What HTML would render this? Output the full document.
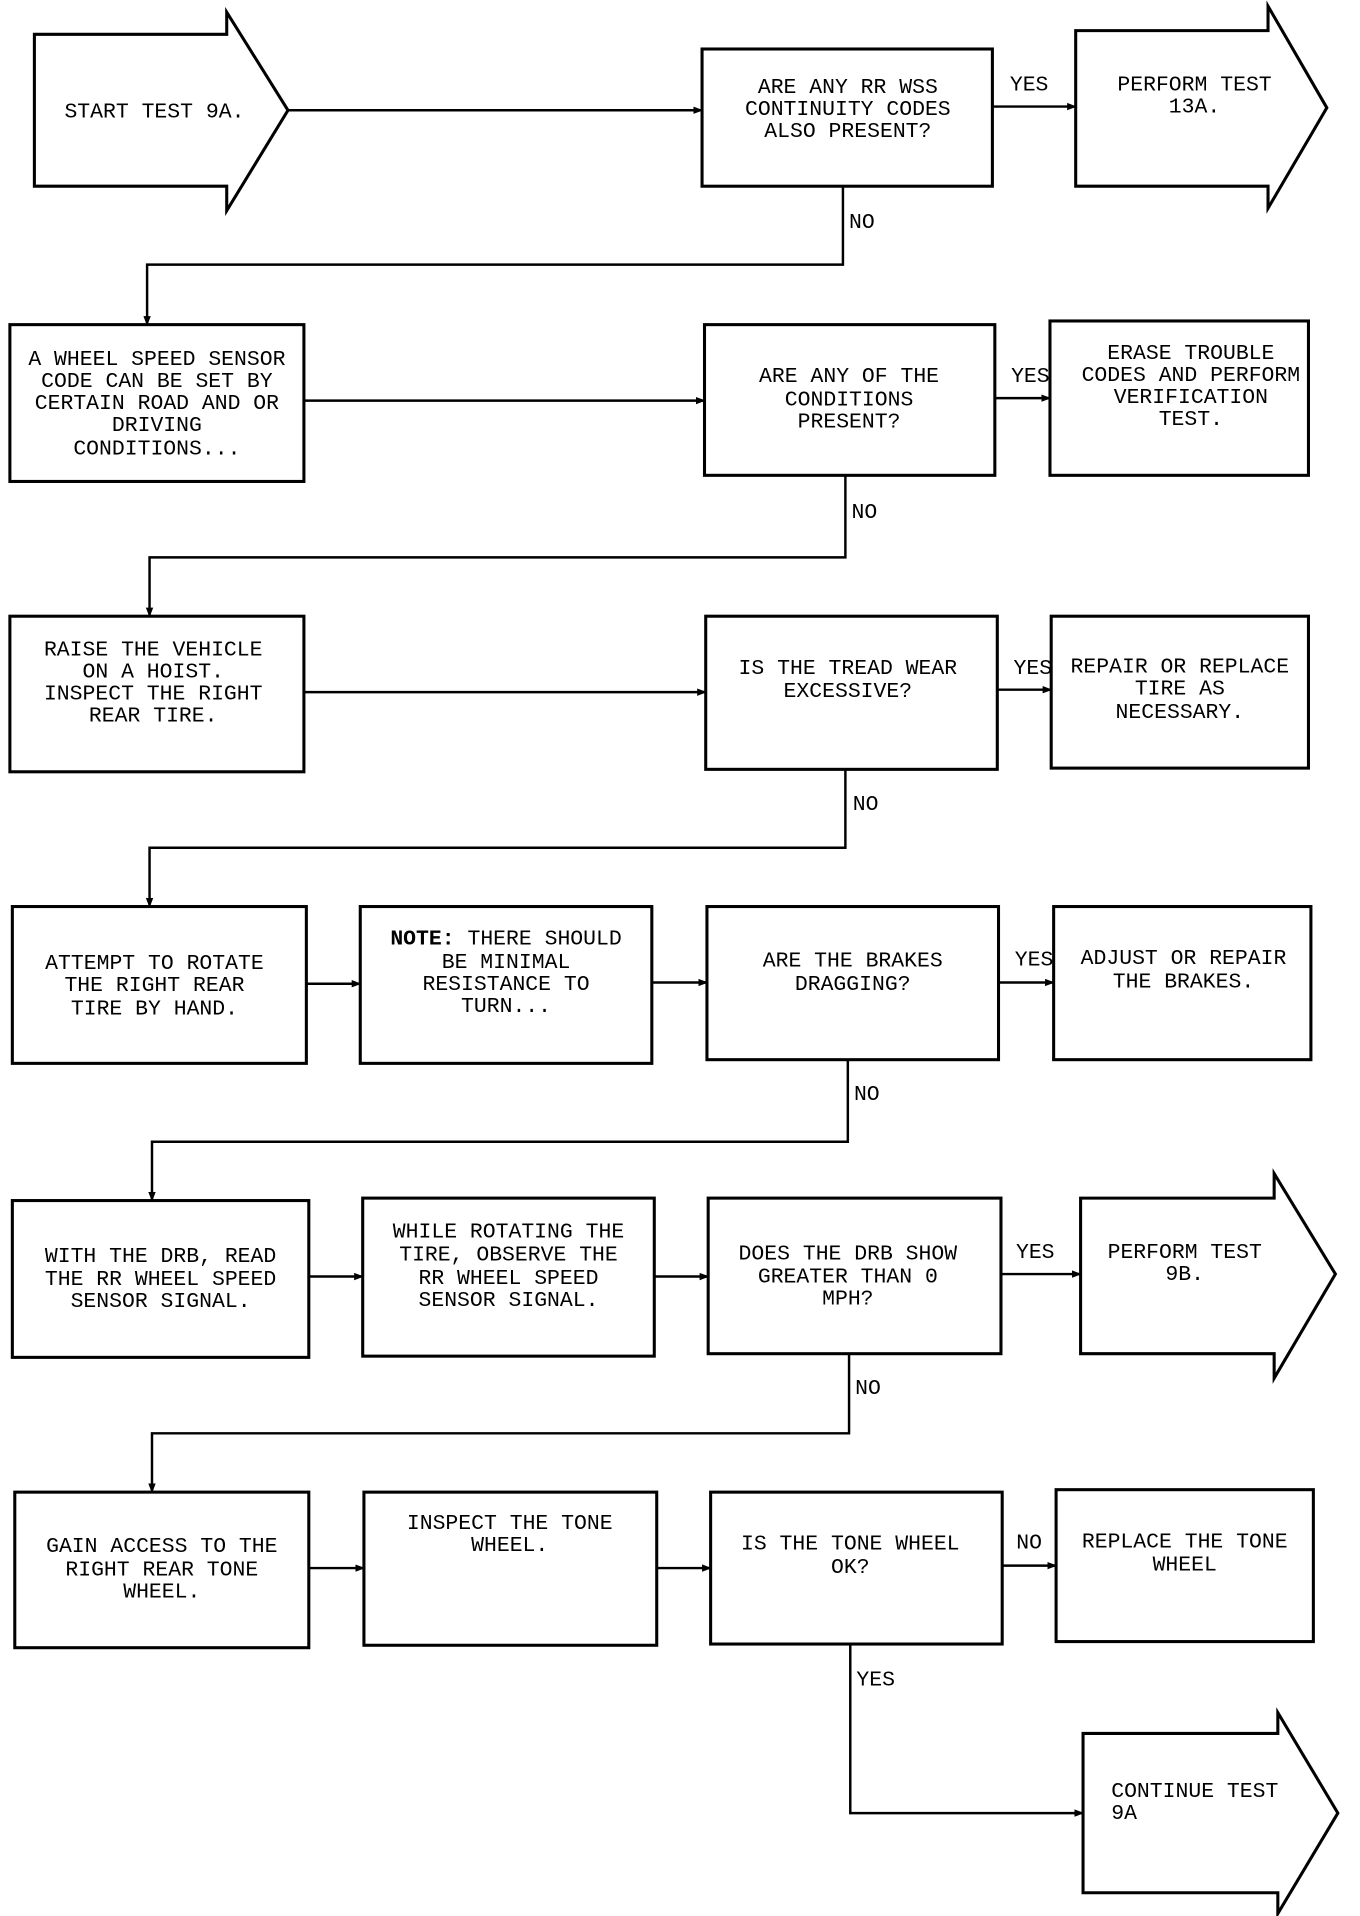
<!DOCTYPE html>
<html><head><meta charset="utf-8"><style>
html,body{margin:0;padding:0;background:#fff;}
svg{display:block;}
text{font-family:"Liberation Mono",monospace;font-size:17.5px;fill:#000;text-anchor:middle;}
.l{text-anchor:start;}
</style></head><body>
<svg width="1360" height="1916" viewBox="0 0 1110 1564" xmlns="http://www.w3.org/2000/svg">
<defs><marker id="a" markerWidth="8" markerHeight="8" refX="7" refY="4" orient="auto" markerUnits="userSpaceOnUse"><path d="M0,1 L8,4 L0,7 Z" fill="#000"/></marker></defs>
<g fill="none" stroke="#000" stroke-width="2.5">
<!-- arrows shapes -->
<path d="M28,28 H185 V10 L235,90 L185,172 V152 H28 Z"/>
<path d="M878,25 H1035 V5 L1083,88 L1035,170 V152 H878 Z"/>
<path d="M882,978 H1040 V958 L1090,1040 L1040,1125 V1105 H882 Z"/>
<path d="M884,1415 H1043 V1398 L1092,1480 L1043,1562 V1545 H884 Z"/>
<!-- boxes -->
<rect x="573" y="40" width="237" height="112"/>
<rect x="8" y="265" width="240" height="128"/>
<rect x="575" y="265" width="237" height="123"/>
<rect x="857" y="262" width="211" height="126"/>
<rect x="8" y="503" width="240" height="127"/>
<rect x="576" y="503" width="238" height="125"/>
<rect x="858" y="503" width="210" height="124"/>
<rect x="10" y="740" width="240" height="128"/>
<rect x="294" y="740" width="238" height="128"/>
<rect x="577" y="740" width="238" height="125"/>
<rect x="860" y="740" width="210" height="125"/>
<rect x="10" y="980" width="242" height="128"/>
<rect x="296" y="978" width="238" height="129"/>
<rect x="578" y="978" width="239" height="127"/>
<rect x="12" y="1218" width="240" height="127"/>
<rect x="297" y="1218" width="239" height="125"/>
<rect x="580" y="1218" width="238" height="124"/>
<rect x="862" y="1216" width="210" height="124"/>
</g>
<g fill="none" stroke="#000" stroke-width="2">
<path d="M235,90 H573" marker-end="url(#a)"/>
<path d="M810,87 H878" marker-end="url(#a)"/>
<path d="M688,152 V216 H120 V265" marker-end="url(#a)"/>
<path d="M248,327 H575" marker-end="url(#a)"/>
<path d="M812,325 H857" marker-end="url(#a)"/>
<path d="M690,388 V455 H122 V503" marker-end="url(#a)"/>
<path d="M248,565 H576" marker-end="url(#a)"/>
<path d="M814,563 H858" marker-end="url(#a)"/>
<path d="M690,628 V692 H122 V740" marker-end="url(#a)"/>
<path d="M250,803 H294" marker-end="url(#a)"/>
<path d="M532,802 H577" marker-end="url(#a)"/>
<path d="M815,802 H860" marker-end="url(#a)"/>
<path d="M692,865 V932 H124 V980" marker-end="url(#a)"/>
<path d="M252,1042 H296" marker-end="url(#a)"/>
<path d="M534,1042 H578" marker-end="url(#a)"/>
<path d="M817,1040 H882" marker-end="url(#a)"/>
<path d="M693,1105 V1170 H124 V1218" marker-end="url(#a)"/>
<path d="M252,1280 H297" marker-end="url(#a)"/>
<path d="M536,1280 H580" marker-end="url(#a)"/>
<path d="M818,1278 H862" marker-end="url(#a)"/>
<path d="M694,1342 V1480 H884" marker-end="url(#a)"/>
</g>
<g>
<text x="126" y="96">START TEST 9A.</text>
<text x="692" y="76">ARE ANY RR WSS</text><text x="692" y="94">CONTINUITY CODES</text><text x="692" y="112">ALSO PRESENT?</text>
<text x="840" y="74">YES</text>
<text x="975" y="74">PERFORM TEST</text><text x="975" y="92">13A.</text>
<text class="l" x="693" y="186">NO</text>
<text x="128" y="298">A WHEEL SPEED SENSOR</text><text x="128" y="316">CODE CAN BE SET BY</text><text x="128" y="334">CERTAIN ROAD AND OR</text><text x="128" y="352">DRIVING</text><text x="128" y="371">CONDITIONS...</text>
<text x="693" y="312">ARE ANY OF THE</text><text x="693" y="331">CONDITIONS</text><text x="693" y="349">PRESENT?</text>
<text x="841" y="312">YES</text>
<text x="972" y="293">ERASE TROUBLE</text><text x="972" y="311">CODES AND PERFORM</text><text x="972" y="329">VERIFICATION</text><text x="972" y="347">TEST.</text>
<text class="l" x="695" y="423">NO</text>
<text x="125" y="535">RAISE THE VEHICLE</text><text x="125" y="553">ON A HOIST.</text><text x="125" y="571">INSPECT THE RIGHT</text><text x="125" y="589">REAR TIRE.</text>
<text x="692" y="550">IS THE TREAD WEAR</text><text x="692" y="569">EXCESSIVE?</text>
<text x="843" y="550">YES</text>
<text x="963" y="549">REPAIR OR REPLACE</text><text x="963" y="567">TIRE AS</text><text x="963" y="586">NECESSARY.</text>
<text class="l" x="696" y="661">NO</text>
<text x="126" y="791">ATTEMPT TO ROTATE</text><text x="126" y="809">THE RIGHT REAR</text><text x="126" y="828">TIRE BY HAND.</text>
<text x="413" y="771"><tspan font-weight="bold">NOTE:</tspan> THERE SHOULD</text><text x="413" y="790">BE MINIMAL</text><text x="413" y="808">RESISTANCE TO</text><text x="413" y="826">TURN...</text>
<text x="696" y="789">ARE THE BRAKES</text><text x="696" y="808">DRAGGING?</text>
<text x="844" y="788">YES</text>
<text x="966" y="787">ADJUST OR REPAIR</text><text x="966" y="806">THE BRAKES.</text>
<text class="l" x="697" y="898">NO</text>
<text x="131" y="1030">WITH THE DRB, READ</text><text x="131" y="1049">THE RR WHEEL SPEED</text><text x="131" y="1067">SENSOR SIGNAL.</text>
<text x="415" y="1010">WHILE ROTATING THE</text><text x="415" y="1029">TIRE, OBSERVE THE</text><text x="415" y="1048">RR WHEEL SPEED</text><text x="415" y="1066">SENSOR SIGNAL.</text>
<text x="692" y="1028">DOES THE DRB SHOW</text><text x="692" y="1047">GREATER THAN 0</text><text x="692" y="1065">MPH?</text>
<text x="845" y="1027">YES</text>
<text x="967" y="1027">PERFORM TEST</text><text x="967" y="1045">9B.</text>
<text class="l" x="698" y="1138">NO</text>
<text x="132" y="1267">GAIN ACCESS TO THE</text><text x="132" y="1286">RIGHT REAR TONE</text><text x="132" y="1304">WHEEL.</text>
<text x="416" y="1248">INSPECT THE TONE</text><text x="416" y="1266">WHEEL.</text>
<text x="694" y="1265">IS THE TONE WHEEL</text><text x="694" y="1284">OK?</text>
<text x="840" y="1264">NO</text>
<text x="967" y="1263">REPLACE THE TONE</text><text x="967" y="1282">WHEEL</text>
<text class="l" x="699" y="1376">YES</text>
<text class="l" x="907" y="1467">CONTINUE TEST</text><text class="l" x="907" y="1485">9A</text>
</g>
</svg>
</body></html>
